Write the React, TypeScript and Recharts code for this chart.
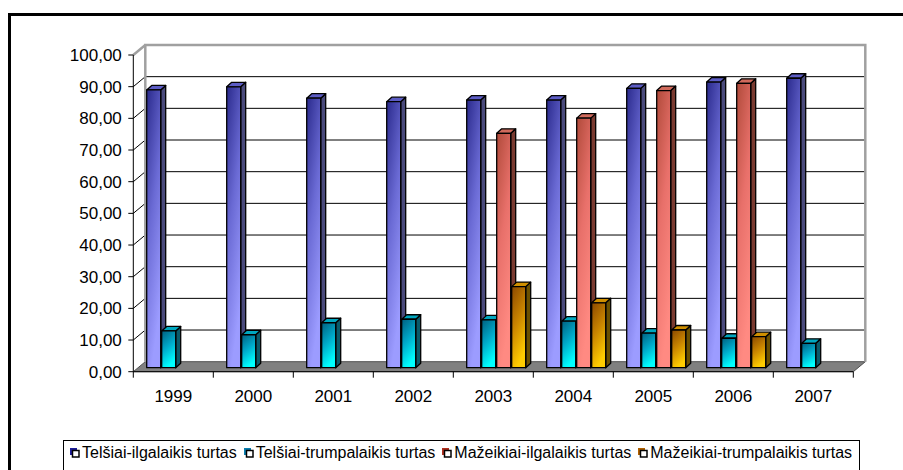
import React from 'react';
import { BarChart, Bar, XAxis, YAxis, CartesianGrid, Legend } from 'recharts';

// duomenys (procentai)
const years = ['1999', '2000', '2001', '2002', '2003', '2004', '2005', '2006', '2007'];
const telsiaiIlgalaikis = [87.7, 88.7, 85.1, 84.0, 84.5, 84.5, 88.2, 90.2, 91.4];
const telsiaiTrumpalaikis = [11.6, 10.4, 14.2, 15.3, 15.1, 14.7, 10.9, 9.3, 7.7];
const mazeikiaiIlgalaikis = [null, null, null, null, 74.0, 78.8, 87.5, 89.8, null];
const mazeikiaiTrumpalaikis = [null, null, null, null, 25.6, 20.5, 11.9, 9.8, null];
const yTicks = [0, 10, 20, 30, 40, 50, 60, 70, 80, 90, 100];

const series = [
  { key: 'ti', name: 'Telšiai-ilgalaikis turtas', top: '#5c5cc4', side: '#4a4a7c', stops: ['#2a2a8c', '#6a6ad4', '#9c9cff'], icon: '#1c1c99' },
  { key: 'tt', name: 'Telšiai-trumpalaikis turtas', top: '#00a8c0', side: '#0a5a6a', stops: ['#005f80', '#00a8c8', '#00ffff'], icon: '#0a7fb0' },
  { key: 'mi', name: 'Mažeikiai-ilgalaikis turtas', top: '#d06a5c', side: '#7a3a30', stops: ['#b04a3a', '#e8706a', '#ff8a82'], icon: '#b03020' },
  { key: 'mt', name: 'Mažeikiai-trumpalaikis turtas', top: '#d09000', side: '#6a5000', stops: ['#8a4800', '#c88400', '#ffcc00'], icon: '#b06000' },
];

const data = years.map((y, i) => ({
  year: y,
  ti: telsiaiIlgalaikis[i],
  tt: telsiaiTrumpalaikis[i],
  mi: mazeikiaiIlgalaikis[i],
  mt: mazeikiaiTrumpalaikis[i],
}));

const W = 903;
const H = 470;
const LEFT = 133.3;
const RIGHT = 853.3;
const TOP = 55;
const BOTTOM = 371.7;
const Y_AXIS_W = 80;
const X_AXIS_H = 40;
const BAND = (RIGHT - LEFT) / years.length;
// gylis: galinė siena ir stulpeliai
const WX = 12;
const WY = -10;
const BX = 2.4;
const BY = -4;
const DX = 5;
const DY = -4.5;

const FONT = "'Liberation Sans', Arial, sans-serif";

const gridLine = (p: any) => {
  const { x1, y1, x2 } = p;
  const k = `g-${y1}`;
  if (Math.abs(y1 - BOTTOM) < 1) {
    return (
      <polygon
        key={k}
        points={`${x1},${y1} ${x2},${y1} ${x2 + WX},${y1 + WY} ${x1 + WX},${y1 + WY}`}
        fill="#808080"
        stroke="#505050"
        strokeWidth={1}
      />
    );
  }
  if (Math.abs(y1 - TOP) < 1) {
    return (
      <g key={k} stroke="#a0a0a0" strokeWidth={2.5} fill="none">
        <line x1={x1} y1={y1} x2={x1 + WX} y2={y1 + WY} />
        <polyline points={`${x1 + WX},${BOTTOM + WY} ${x1 + WX},${y1 + WY} ${x2 + WX},${y1 + WY} ${x2 + WX},${BOTTOM + WY}`} />
      </g>
    );
  }
  return (
    <g key={k} stroke="#000" strokeWidth={1}>
      <line x1={x1} y1={y1} x2={x1 + WX} y2={y1 + WY} />
      <line x1={x1 + WX} y1={y1 + WY} x2={x2 + WX} y2={y1 + WY} />
    </g>
  );
};

const makeShape = (s: typeof series[number]) => (props: any) => {
  const { x, y, width, height } = props;
  if (!height || height <= 0 || x == null) return <g />;
  const fx = x + BX;
  const fy = y + BY;
  const w = width;
  const h = height;
  return (
    <g stroke="#000" strokeWidth={1.3} strokeLinejoin="round">
      <polygon points={`${fx + w},${fy} ${fx + w + DX},${fy + DY} ${fx + w + DX},${fy + h + DY} ${fx + w},${fy + h}`} fill={s.side} />
      <polygon points={`${fx},${fy} ${fx + DX},${fy + DY} ${fx + w + DX},${fy + DY} ${fx + w},${fy}`} fill={s.top} />
      <rect x={fx} y={fy} width={w} height={h} fill={`url(#grad-${s.key})`} />
    </g>
  );
};

const XTick = (props: any) => {
  const { x, y, payload, index } = props;
  return (
    <g>
      <line x1={x - BAND / 2} y1={y} x2={x - BAND / 2} y2={y + 6} stroke="#000" />
      {index === years.length - 1 && <line x1={x + BAND / 2} y1={y} x2={x + BAND / 2} y2={y + 6} stroke="#000" />}
      <text x={x} y={y + 30.6} textAnchor="middle" fontSize={17} fill="#000" fontFamily={FONT}>
        {payload.value}
      </text>
    </g>
  );
};

const YTick = (props: any) => {
  const { x, y, payload } = props;
  return (
    <text x={x} y={y + 6} textAnchor="end" fontSize={17} fill="#000" fontFamily={FONT}>
      {Number(payload.value).toFixed(2).replace('.', ',')}
    </text>
  );
};

const LegendBox = () => (
  <div
    style={{
      boxSizing: 'border-box',
      width: 797,
      height: 40,
      border: '1px solid #000',
      background: '#fff',
      display: 'flex',
      alignItems: 'flex-start',
      paddingTop: 3,
      paddingLeft: 6,
      fontSize: 16,
      lineHeight: '18px',
      whiteSpace: 'nowrap',
      fontFamily: FONT,
      color: '#000',
    }}
  >
    {series.map((s) => (
      <span key={s.key} style={{ display: 'flex', alignItems: 'center', marginRight: 7 }}>
        <svg width={10} height={10} style={{ marginRight: 2 }}>
          <rect x={0} y={0} width={7} height={7} fill={s.icon} />
          <rect x={2.5} y={2.5} width={6.5} height={6.5} fill="#fff" stroke="#000" strokeWidth={1.5} />
        </svg>
        <span>{s.name}</span>
      </span>
    ))}
  </div>
);

export default function App() {
  return (
    <div style={{ position: 'relative', width: W, height: H, overflow: 'hidden', background: '#fff', fontFamily: FONT }}>
      <style>{'body{margin:0}'}</style>
      <div
        style={{
          position: 'absolute',
          left: 8,
          top: 13,
          width: 2000,
          height: 2000,
          borderTop: '3px solid #000',
          borderLeft: '3px solid #000',
        }}
      />
      <div style={{ position: 'absolute', left: 0, top: 0 }}>
        <BarChart
          width={W}
          height={H}
          data={data}
          margin={{ top: TOP, left: LEFT - Y_AXIS_W, right: W - RIGHT, bottom: H - BOTTOM - X_AXIS_H }}
          barSize={14}
          barGap={1}
        >
          <defs>
            {series.map((s) => (
              <linearGradient key={s.key} id={`grad-${s.key}`} x1="0" y1="0" x2="0.35" y2="1">
                <stop offset="0%" stopColor={s.stops[0]} />
                <stop offset="50%" stopColor={s.stops[1]} />
                <stop offset="100%" stopColor={s.stops[2]} />
              </linearGradient>
            ))}
          </defs>
          <CartesianGrid vertical={false} horizontal={gridLine} />
          <XAxis
            dataKey="year"
            height={X_AXIS_H}
            tickSize={0}
            tickMargin={0}
            tick={<XTick />}
            axisLine={{ stroke: '#000' }}
            interval={0}
          />
          <YAxis
            width={Y_AXIS_W}
            domain={[0, 100]}
            ticks={yTicks}
            interval={0}
            tickSize={5}
            tickMargin={6.5}
            tick={<YTick />}
            tickLine={{ stroke: '#000' }}
            axisLine={{ stroke: '#000' }}
          />
          {series.map((s) => (
            <Bar key={s.key} dataKey={s.key} name={s.name} shape={makeShape(s)} isAnimationActive={false} />
          ))}
          <Legend
            layout="horizontal"
            verticalAlign="middle"
            content={() => <LegendBox />}
            wrapperStyle={{ left: 63, top: 440, width: 797, height: 40 }}
          />
        </BarChart>
      </div>
    </div>
  );
}
